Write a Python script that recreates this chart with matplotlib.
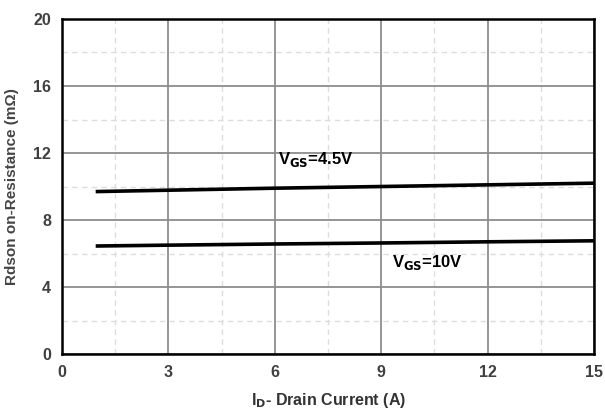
import numpy as np
import matplotlib.pyplot as plt
from matplotlib.ticker import MultipleLocator

plt.rcParams['font.family'] = ['Liberation Sans', 'DejaVu Sans']

# drain current (A)
i_d = [1, 3, 6, 9, 12, 15]
# on-resistance (mOhm)
r_45v = [9.7, 9.78, 9.9, 10.0, 10.1, 10.2]
r_10v = [6.45, 6.5, 6.57, 6.63, 6.7, 6.76]

fig = plt.figure(figsize=(6.05, 4.19), dpi=100)
ax = fig.add_axes([0.1025, 0.155, 0.8795, 0.7997])

ax.plot(i_d, r_45v, color='black', linewidth=2.6)
ax.plot(i_d, r_10v, color='black', linewidth=2.6)

ax.set_xlim(0, 15)
ax.set_ylim(0, 20)
ax.xaxis.set_major_locator(MultipleLocator(3))
ax.yaxis.set_major_locator(MultipleLocator(4))
ax.xaxis.set_minor_locator(MultipleLocator(1.5))
ax.yaxis.set_minor_locator(MultipleLocator(2))
ax.grid(which='major', color='#8c8c8c', linewidth=1.3)
ax.grid(which='minor', color='#dddddd', linewidth=1.0, linestyle=(0, (4, 3)))
ax.tick_params(which='both', length=0)
ax.tick_params(labelsize=11.5, labelcolor='#404040', pad=8)
for lbl in ax.get_xticklabels() + ax.get_yticklabels():
    lbl.set_fontweight('bold')
for s in ax.spines.values():
    s.set_linewidth(1.8)

ax.text(6.1, 11.35, r'V$_{\mathbf{GS}}$=4.5V', fontsize=12, fontweight='bold', color='black')
ax.text(9.3, 5.2, r'V$_{\mathbf{GS}}$=10V', fontsize=12, fontweight='bold', color='black')

ax.set_xlabel(r'I$_{\mathbf{D}}$- Drain Current (A)', fontsize=11.5, fontweight='bold', color='#333333', labelpad=8)
ax.set_ylabel('Rdson on-Resistance (mΩ)', fontsize=11, fontweight='bold', color='#444444', labelpad=10)

fig.savefig('out.png', dpi=100)
